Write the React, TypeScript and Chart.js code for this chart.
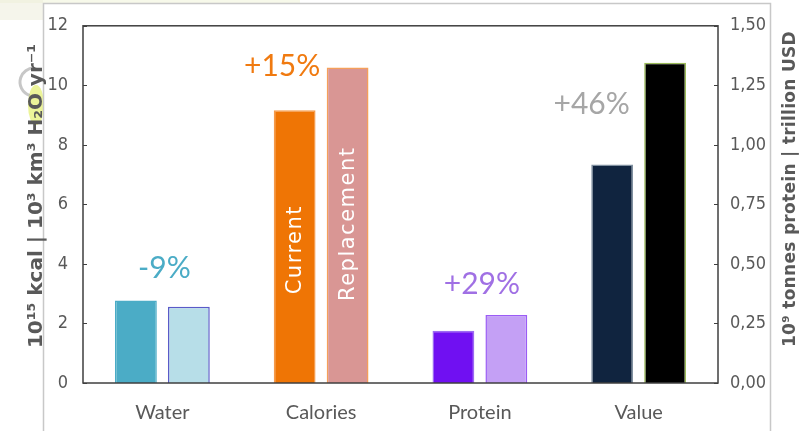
import React, { useEffect, useRef } from "react";
import { Chart, registerables } from "chart.js";

Chart.register(...registerables);

// ---- data ----
const categories = ["Water", "Calories", "Protein", "Value"];
// left axis (10^15 kcal | 10^3 km3 H2O yr-1): Water, Calories
const leftCurrent = [2.77, 9.16, null, null];
const leftReplacement = [2.56, 10.6, null, null];
// right axis (10^9 tonnes protein | trillion USD): Protein, Value
const rightCurrent = [null, null, 0.219, 0.918];
const rightReplacement = [null, null, 0.286, 1.345];
const changeLabels = ["-9%", "+15%", "+29%", "+46%"];
const leftMax = 12;
const leftStep = 2;
const rightMax = 1.5;
const rightStep = 0.25;
const leftTitle = "10¹⁵ kcal | 10³ km³ H₂O yr⁻¹";
const rightTitle = "10⁹ tonnes protein | trillion USD";
const barTextCurrent = "Current";
const barTextReplacement = "Replacement";

// ---- styles ----
const currentColors = ["#4BACC6", "#EF7505", "#7010F2", "#10243F"];
const currentBorders = ["#4BACC6", "#F59A4A", "#9C6CF2", "#8090A0"];
const replacementColors = ["#B7DEE8", "#D99694", "#C4A0F5", "#000000"];
const replacementBorders = ["#5A5AC8", "#F5A05A", "#9B5CF5", "#9BBB59"];
const labelColors = ["#4BACC6", "#F07A10", "#A070E4", "#A6A6A6"];
// label placement: dx from category centre (px), y in left-axis units
const labelDx = [2, -39, 2, -47];
const labelY = [3.85, 10.63, 3.32, 9.37];

const TEXT = "#595959";
const tickFont = "'Liberation Sans Narrow', 'DejaVu Sans Condensed', sans-serif";

const decorPlugin = {
  id: "decor",
  beforeDraw(chart: any) {
    const ctx = chart.ctx;
    ctx.save();
    ctx.fillStyle = "#fff";
    ctx.fillRect(0, 0, chart.width, chart.height);
    // faint background image fragment outside the frame
    ctx.fillStyle = "rgba(225,232,170,0.25)";
    ctx.fillRect(0, 0, 300, 3);
    ctx.fillStyle = "rgba(235,235,215,0.5)";
    ctx.fillRect(0, 0, 43, 20);
    ctx.beginPath();
    ctx.ellipse(36, 105, 8, 20, 0, 0, Math.PI * 2);
    ctx.fillStyle = "rgba(220,235,70,0.55)";
    ctx.fill();
    ctx.beginPath();
    ctx.arc(34, 82, 14, Math.PI * 0.6, Math.PI * 1.5);
    ctx.strokeStyle = "rgba(130,130,130,0.45)";
    ctx.lineWidth = 3;
    ctx.stroke();
    // frame
    ctx.strokeStyle = "#C8C8C8";
    ctx.lineWidth = 1.5;
    ctx.beginPath();
    ctx.moveTo(43.5, 431);
    ctx.lineTo(43.5, 3.5);
    ctx.lineTo(770.5, 3.5);
    ctx.lineTo(770.5, 431);
    ctx.stroke();
    ctx.restore();
  },
  afterDraw(chart: any) {
    const ctx = chart.ctx;
    const a = chart.chartArea;
    const x = chart.scales.x;
    const y = chart.scales.y;
    const y1 = chart.scales.y1;
    ctx.save();
    // plot border
    ctx.strokeStyle = "#3F3F3F";
    ctx.lineWidth = 1.5;
    ctx.strokeRect(a.left, a.top, a.right - a.left, a.bottom - a.top);
    // inward ticks
    ctx.lineWidth = 1.2;
    ctx.beginPath();
    y.ticks.forEach((t: any) => {
      const py = Math.round(y.getPixelForValue(t.value)) + 0.5;
      ctx.moveTo(a.left, py);
      ctx.lineTo(a.left + 4, py);
    });
    y1.ticks.forEach((t: any) => {
      const py = Math.round(y1.getPixelForValue(t.value)) + 0.5;
      ctx.moveTo(a.right - 4, py);
      ctx.lineTo(a.right, py);
    });
    ctx.stroke();

    // percent labels
    ctx.textAlign = "center";
    ctx.textBaseline = "middle";
    ctx.font = "30px Lato, sans-serif";
    changeLabels.forEach((lab, i) => {
      ctx.fillStyle = labelColors[i];
      ctx.fillText(lab, x.getPixelForValue(i) + labelDx[i], y.getPixelForValue(labelY[i]));
    });

    // rotated texts inside calories bars
    const meta0 = chart.getDatasetMeta(0);
    const meta1 = chart.getDatasetMeta(1);
    ctx.fillStyle = "#FFFFFF";
    ctx.font = "21px 'DejaVu Sans', sans-serif";
    (ctx as any).letterSpacing = "1.5px";
    const drawV = (txt: string, cx: number, cy: number) => {
      ctx.save();
      ctx.translate(cx, cy);
      ctx.rotate(-Math.PI / 2);
      ctx.textAlign = "center";
      ctx.textBaseline = "middle";
      ctx.fillText(txt, 0, 0);
      ctx.restore();
    };
    drawV(barTextCurrent, meta0.data[1].x + 1, y.getPixelForValue(4.48));
    drawV(barTextReplacement, meta1.data[1].x + 1, y.getPixelForValue(5.35));
    (ctx as any).letterSpacing = "0px";

    // axis titles
    const drawTitle = (txt: string, bx: number, cy: number, font: string, spacing: string) => {
      ctx.save();
      ctx.translate(bx, cy);
      ctx.rotate(-Math.PI / 2);
      ctx.textAlign = "center";
      ctx.textBaseline = "alphabetic";
      ctx.font = font;
      (ctx as any).letterSpacing = spacing;
      ctx.fillStyle = TEXT;
      ctx.fillText(txt, 0, 0);
      ctx.restore();
    };
    drawTitle(leftTitle, 42, 196, "bold 20px 'DejaVu Sans', sans-serif", "0px");
    drawTitle(rightTitle, 795, 189, "600 17px 'DejaVu Sans', sans-serif", "0.3px");
    (ctx as any).letterSpacing = "0px";
    ctx.restore();
  },
};

export default function App() {
  const ref = useRef<HTMLCanvasElement>(null);
  useEffect(() => {
    const canvas = ref.current!;
    const chart = new Chart(canvas, {
      type: "bar",
      data: {
        labels: categories,
        datasets: [
          {
            label: "Current",
            data: leftCurrent,
            yAxisID: "y",
            backgroundColor: currentColors,
            borderColor: currentBorders,
            borderWidth: 1.5,
          },
          {
            label: "Replacement",
            data: leftReplacement,
            yAxisID: "y",
            backgroundColor: replacementColors,
            borderColor: replacementBorders,
            borderWidth: 1.5,
          },
          {
            label: "Current ",
            data: rightCurrent,
            yAxisID: "y1",
            backgroundColor: currentColors,
            borderColor: currentBorders,
            borderWidth: 1.5,
          },
          {
            label: "Replacement ",
            data: rightReplacement,
            yAxisID: "y1",
            backgroundColor: replacementColors,
            borderColor: replacementBorders,
            borderWidth: 1.5,
          },
        ] as any,
      },
      options: {
        animation: false,
        responsive: false,
        devicePixelRatio: 1,
        layout: { padding: { top: 22, left: 0, right: 0, bottom: 0 } },
        datasets: { bar: { skipNull: true, barPercentage: 0.79, categoryPercentage: 0.667 } } as any,
        plugins: { legend: { display: false }, tooltip: { enabled: false } },
        scales: {
          x: {
            grid: { display: false, drawTicks: false },
            border: { display: false },
            ticks: { color: TEXT, font: { family: "Lato", size: 20 }, padding: 18 },
            afterFit: (s: any) => {
              s.height = 48;
            },
          },
          y: {
            position: "left",
            min: 0,
            max: leftMax,
            grid: { display: false, drawTicks: false },
            border: { display: false },
            ticks: { stepSize: leftStep, color: TEXT, font: { family: tickFont, size: 18 }, padding: 15 },
            afterFit: (s: any) => {
              s.width = 83;
            },
          },
          y1: {
            position: "right",
            min: 0,
            max: rightMax,
            grid: { display: false, drawTicks: false },
            border: { display: false },
            ticks: {
              stepSize: rightStep,
              color: TEXT,
              font: { family: tickFont, size: 18 },
              padding: 12,
              callback: (v: any) => Number(v).toFixed(2).replace(".", ","),
            },
            afterFit: (s: any) => {
              s.width = 83;
            },
          },
        },
      } as any,
      plugins: [decorPlugin],
    });
    return () => chart.destroy();
  }, []);
  return (
    <div style={{ position: "fixed", left: 0, top: 0, width: 801, height: 431, background: "#fff" }}>
      <canvas ref={ref} width={801} height={431} style={{ display: "block", width: 801, height: 431 }} />
    </div>
  );
}
